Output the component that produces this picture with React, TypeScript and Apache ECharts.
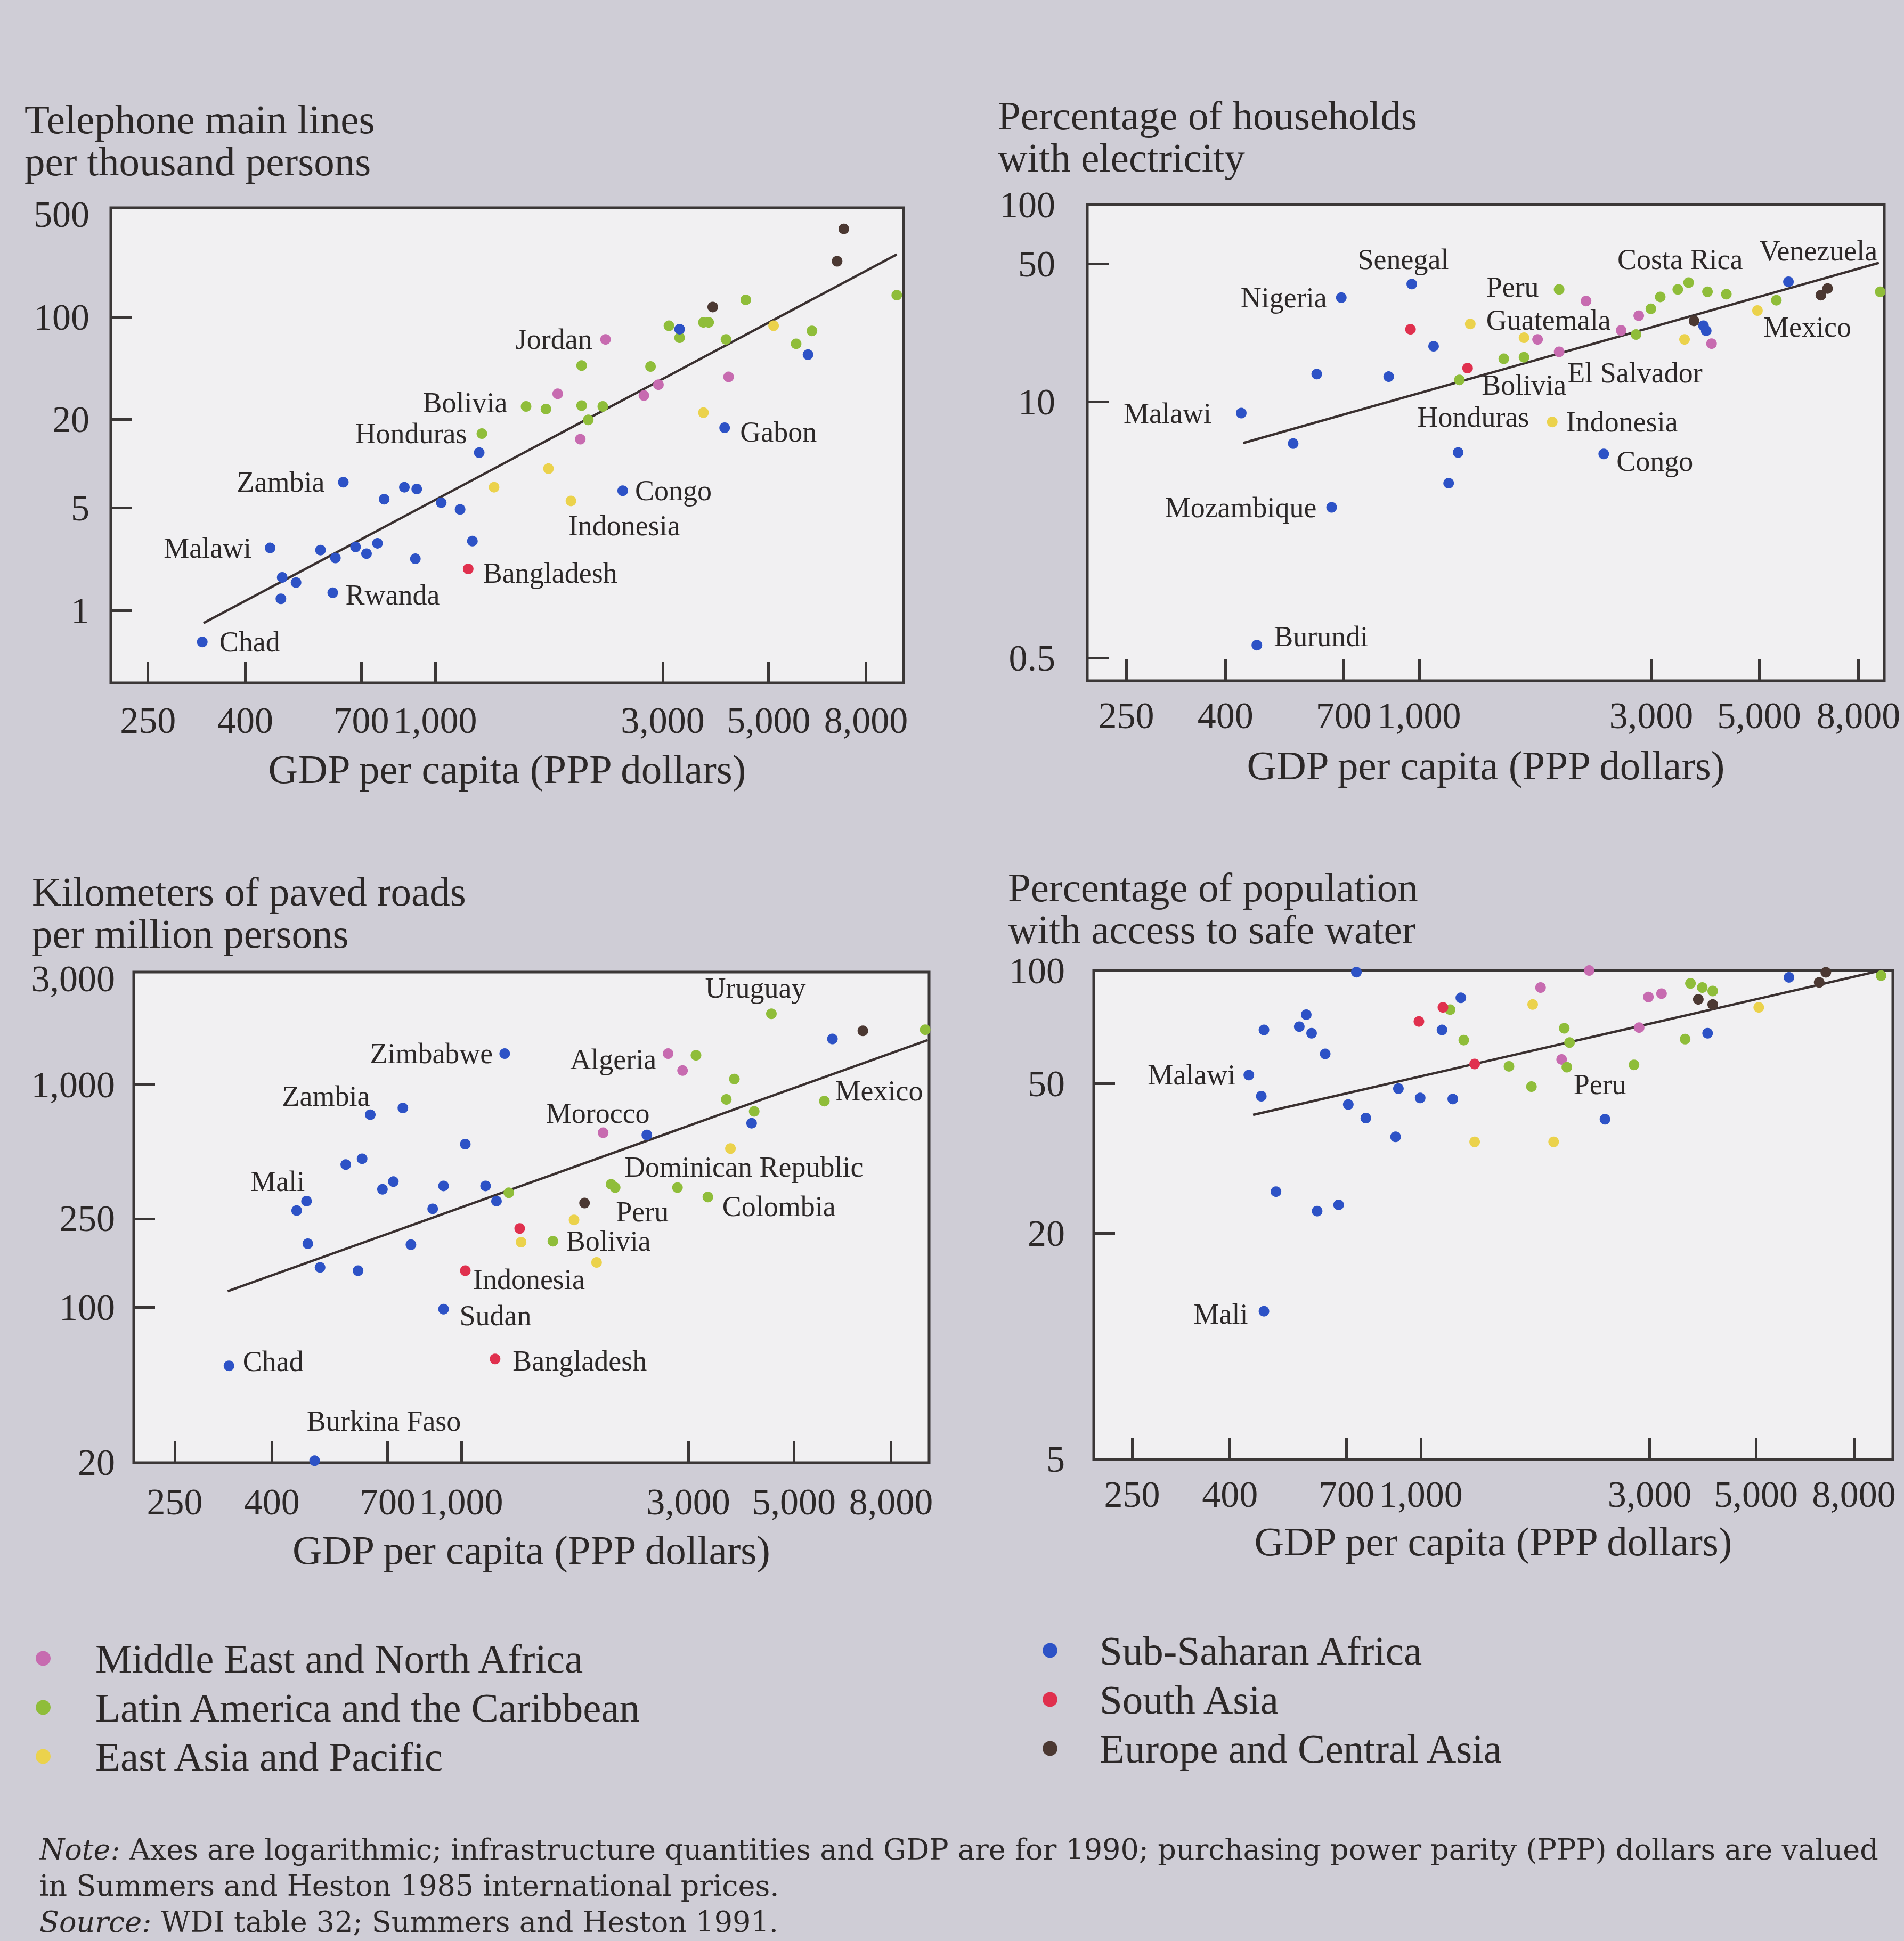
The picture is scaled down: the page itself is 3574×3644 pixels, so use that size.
import React, { useEffect, useRef } from "react";
import * as echarts from "echarts";

const FONT = "'Liberation Serif', 'DejaVu Serif', serif";
const NOTE_FONT = "'DejaVu Serif', 'Liberation Serif', serif";
const INK = "#2c2828";
const AXIS = "#3b3737";
const PAGE_BG = "#cfcdd6";
const PLOT_BG = "#f1f0f2";

const REGION_KEYS = ["mena", "lac", "eap", "ssa", "sa", "eca"];
const REGION_NAMES = [
  "Middle East and North Africa",
  "Latin America and the Caribbean",
  "East Asia and Pacific",
  "Sub-Saharan Africa",
  "South Asia",
  "Europe and Central Asia",
];
const REGION_COLORS = ["#c76bb0", "#8fbd3a", "#ebd24c", "#2d52c6", "#e0304e", "#4b3832"];

const GDP_TICKS = [250, 400, 700, 1000, 3000, 5000, 8000];

type Pt = [number, number, string];
type Named = [string, number, number, string];
type LabelPlace = [string, number, number, number];

// Telephone main lines per thousand persons
const phonePoints: Pt[] = [
  [478, 1.68, "ssa"], [511, 1.55, "ssa"], [475, 1.2, "ssa"], [575, 2.58, "ssa"], [618, 2.28, "ssa"],
  [681, 2.71, "ssa"], [718, 2.44, "ssa"], [757, 2.87, "ssa"], [782, 5.73, "ssa"], [862, 6.92, "ssa"],
  [915, 6.73, "ssa"], [1030, 5.43, "ssa"], [1128, 4.88, "ssa"], [1197, 2.97, "ssa"], [909, 2.25, "ssa"],
  [1237, 11.9, "ssa"], [1329, 6.92, "eap"],
  [2028, 46.7, "lac"], [1807, 30.0, "mena"], [1707, 23.6, "lac"], [2028, 24.9, "lac"], [2246, 24.6, "lac"],
  [2094, 19.9, "lac"], [2015, 14.7, "mena"], [1728, 9.26, "eap"], [2739, 29.2, "mena"], [2938, 34.6, "mena"],
  [2828, 46.0, "lac"], [3091, 87.2, "lac"], [3254, 82.7, "ssa"], [3254, 72.3, "lac"], [3819, 117, "eca"],
  [3651, 92.0, "lac"], [3744, 92.0, "lac"], [4071, 70.4, "lac"], [4479, 131, "lac"], [5122, 87.2, "eap"],
  [5711, 65.7, "lac"], [6165, 80.5, "lac"], [6048, 55.4, "ssa"], [4122, 39.1, "mena"], [3651, 22.3, "eap"],
  [7188, 399, "eca"], [6960, 240, "eca"], [9282, 141, "lac"],
];
const phoneNamed: Named[] = [
  ["Chad", 325, 0.61, "ssa"], ["Malawi", 451, 2.67, "ssa"], ["Zambia", 642, 7.49, "ssa"],
  ["Rwanda", 610, 1.32, "ssa"], ["Honduras", 1253, 16.05, "lac"], ["Bolivia", 1551, 24.6, "lac"],
  ["Jordan", 2276, 70.4, "mena"], ["Bangladesh", 1173, 1.92, "sa"], ["Congo", 2473, 6.55, "ssa"],
  ["Indonesia", 1926, 5.58, "eap"], ["Gabon", 4044, 17.6, "ssa"],
];
const phoneFit = [[327, 0.82], [9280, 267]];
const phoneTicks = [1, 5, 20, 100];
const phoneTickLabels = [1, 5, 20, 100, 500];

// Percentage of households with electricity
const powerPoints: Pt[] = [
  [960, 23.3, "sa"], [1071, 19.1, "ssa"], [616, 13.8, "ssa"], [866, 13.4, "ssa"], [1274, 24.8, "eap"],
  [1258, 14.8, "sa"], [551, 6.13, "ssa"], [1203, 5.52, "ssa"], [1150, 3.86, "ssa"], [2204, 32.4, "mena"],
  [1643, 21.1, "eap"], [1752, 20.7, "mena"], [1940, 17.9, "mena"], [2602, 23.0, "mena"], [2828, 27.3, "mena"],
  [2995, 29.6, "lac"], [3131, 34.0, "lac"], [3402, 37.1, "lac"], [3915, 36.1, "lac"], [4281, 35.1, "lac"],
  [3674, 25.7, "eca"], [3842, 24.3, "ssa"], [3892, 22.9, "ssa"], [3991, 19.7, "mena"], [3512, 20.7, "eap"],
  [4960, 29.0, "eap"], [5743, 40.6, "ssa"], [6696, 34.7, "eca"], [6912, 37.5, "eca"],
];
const powerNamed: Named[] = [
  ["Senegal", 966, 39.5, "ssa"], ["Nigeria", 692, 33.7, "ssa"], ["Honduras", 1210, 12.9, "lac"],
  ["Malawi", 431, 8.75, "ssa"], ["Mozambique", 661, 2.91, "ssa"], ["Burundi", 464, 0.582, "ssa"],
  ["Peru", 1940, 37.1, "lac"], ["Bolivia", 1493, 16.5, "lac"], ["Guatemala", 1643, 16.8, "lac"],
  ["Costa Rica", 3581, 40.2, "lac"], ["El Salvador", 2792, 21.9, "lac"], ["Mexico", 5424, 32.7, "lac"],
  ["Venezuela", 8867, 36.1, "lac"], ["Indonesia", 1878, 7.89, "eap"], ["Congo", 2396, 5.43, "ssa"],
];
const powerFit = [[435, 6.17], [8810, 50.6]];
const powerTicks = [0.5, 10, 50];
const powerTickLabels = [0.5, 10, 50, 100];

// Kilometers of paved roads per million persons
const roadPoints: Pt[] = [
  [754, 787, "ssa"], [1020, 541, "ssa"], [572, 438, "ssa"], [619, 465, "ssa"], [683, 339, "ssa"],
  [720, 367, "ssa"], [918, 351, "ssa"], [1125, 351, "ssa"], [1186, 300, "ssa"], [1259, 327, "lac"],
  [451, 272, "ssa"], [871, 277, "ssa"], [476, 193, "ssa"], [505, 151, "ssa"], [607, 146, "ssa"],
  [784, 191, "ssa"], [1327, 226, "sa"], [1336, 196, "eap"], [1020, 146, "sa"],
  [6026, 1607, "ssa"], [6982, 1748, "eca"], [9440, 1769, "lac"], [2918, 1159, "mena"], [3114, 1358, "lac"],
  [3750, 1062, "lac"], [3606, 860, "lac"], [2455, 595, "ssa"], [4127, 760, "lac"], [4076, 672, "ssa"],
  [3679, 517, "eap"], [2847, 345, "lac"], [1816, 294, "eca"], [1726, 247, "eap"],
];
const roadNamed: Named[] = [
  ["Zimbabwe", 1234, 1381, "ssa"], ["Zambia", 644, 734, "ssa"], ["Mali", 473, 300, "ssa"],
  ["Chad", 325, 54.5, "ssa"], ["Burkina Faso", 492, 20.4, "ssa"], ["Sudan", 918, 98.0, "ssa"],
  ["Indonesia", 1925, 159, "eap"], ["Bangladesh", 1178, 58.5, "sa"], ["Bolivia", 1558, 198, "lac"],
  ["Peru", 2106, 345, "lac"], ["Dominican Republic", 2065, 357, "lac"], ["Colombia", 3298, 313, "lac"],
  ["Morocco", 1987, 609, "mena"], ["Algeria", 2721, 1381, "mena"], ["Uruguay", 4485, 2086, "lac"],
  ["Mexico", 5796, 845, "lac"],
];
const roadFit = [[323, 118], [9557, 1590]];
const roadTicks = [100, 250, 1000];
const roadTickLabels = [20, 100, 250, 1000, 3000];

// Percentage of population with access to safe water
const waterPoints: Pt[] = [
  [734, 99, "ssa"], [471, 69.5, "ssa"], [577, 76.3, "ssa"], [558, 70.9, "ssa"], [592, 68.1, "ssa"],
  [632, 60.0, "ssa"], [465, 46.3, "ssa"], [706, 44.0, "ssa"], [768, 40.5, "ssa"], [898, 48.5, "ssa"],
  [997, 45.8, "ssa"], [1166, 45.5, "ssa"], [886, 36.1, "ssa"], [499, 25.8, "ssa"], [608, 22.9, "ssa"],
  [674, 23.8, "ssa"], [1212, 84.6, "ssa"], [1112, 79.8, "sa"], [1151, 78.7, "lac"], [991, 73.2, "sa"],
  [1107, 69.5, "ssa"], [1229, 65.3, "lac"], [1295, 56.4, "sa"], [1295, 35.0, "eap"], [2244, 100, "mena"],
  [1777, 90.1, "mena"], [1711, 81.2, "eap"], [1991, 70.2, "lac"], [2042, 64.3, "lac"], [1966, 58.0, "mena"],
  [2016, 55.3, "lac"], [1527, 55.6, "lac"], [1701, 49.1, "lac"], [2852, 70.5, "mena"], [2982, 85.0, "mena"],
  [3176, 86.8, "mena"], [3649, 92.4, "lac"], [3862, 90.1, "lac"], [4061, 88.2, "lac"], [3789, 83.8, "eca"],
  [4061, 81.2, "eca"], [5065, 79.8, "eap"], [3557, 65.7, "lac"], [3962, 68.1, "ssa"], [5856, 95.9, "ssa"],
  [6770, 93.0, "eca"], [6990, 98.9, "eca"], [9113, 96.9, "lac"], [2421, 40.2, "ssa"], [1892, 35.0, "eap"],
];
const waterNamed: Named[] = [
  ["Malawi", 438, 52.7, "ssa"], ["Mali", 471, 12.4, "ssa"], ["Peru", 2783, 56.1, "lac"],
];
const waterFit = [[447, 41.3], [9113, 100]];
const waterTicks = [20, 50];
const waterTickLabels = [5, 20, 50, 100];

// Country label placement: [position, distance, dx, dy]
const phoneLabels: Record<string, LabelPlace> = {
  Chad: ["right", 22, 0, 0], Malawi: ["left", 25, 0, 0], Zambia: ["left", 25, 0, 0],
  Rwanda: ["right", 14, 0, 4], Honduras: ["left", 18, 0, 0], Bolivia: ["left", 25, 0, -7],
  Jordan: ["left", 15, 0, 0], Bangladesh: ["right", 18, 0, 8], Congo: ["right", 13, 0, 0],
  Indonesia: ["bottom", 10, 100, 0], Gabon: ["right", 19, 0, 8],
};
const powerLabels: Record<string, LabelPlace> = {
  Senegal: ["top", 9, -16, 0], Nigeria: ["left", 17, 0, 0], Malawi: ["left", 46, 0, 0],
  Mozambique: ["left", 18, 0, 0], Burundi: ["right", 22, 0, -16], Peru: ["left", 28, 0, -4],
  Guatemala: ["top", 33, 46, 0], Bolivia: ["bottom", 12, 38, 0], Honduras: ["bottom", 33, 26, 0],
  "El Salvador": ["bottom", 35, -2, 0], Indonesia: ["right", 16, 0, 0], Congo: ["right", 14, 0, 14],
  "Costa Rica": ["top", 6, -16, 0], Venezuela: ["top", 40, -116, 0], Mexico: ["bottom", 13, 58, 0],
};
const roadLabels: Record<string, LabelPlace> = {
  Zimbabwe: ["left", 12, 0, 0], Zambia: ["top", -2, -83, 0], Mali: ["top", 0, -54, 0],
  Chad: ["right", 16, 0, -8], "Burkina Faso": ["top", 37, 130, 0], Sudan: ["right", 20, 0, 12],
  Indonesia: ["left", 12, 0, 32], Bangladesh: ["right", 23, 0, 4], Bolivia: ["right", 15, 0, 0],
  Peru: ["bottom", 8, 51, 0], "Dominican Republic": ["right", 15, 0, -32], Colombia: ["right", 17, 0, 18],
  Morocco: ["top", 0, -10, 0], Algeria: ["left", 12, 0, 11], Uruguay: ["top", 11, -30, 0],
  Mexico: ["right", 10, 0, -19],
};
const waterLabels: Record<string, LabelPlace> = {
  Malawi: ["left", 15, 0, 0], Mali: ["left", 20, 0, 5], Peru: ["bottom", 0, -64, 0],
};

const NOTE_LINES = [
  "{i|Note:} Axes are logarithmic; infrastructure quantities and GDP are for 1990; purchasing power parity (PPP) dollars are valued",
  "in Summers and Heston 1985 international prices.",
  "{i|Source:} WDI table 32; Summers and Heston 1991.",
];

const PANELS = [
  {
    title: "Telephone main lines\nper thousand persons", titleLeft: 46, titleTop: 184,
    grid: { left: 208, top: 390, width: 1488, height: 892 },
    x: [209, 9590], y: [0.321, 556], yTicks: phoneTicks, yLabels: phoneTickLabels,
    points: phonePoints, named: phoneNamed, fit: phoneFit, labels: phoneLabels,
    xMargin: 35, yMargin: 40, nameGap: 123,
  },
  {
    title: "Percentage of households\nwith electricity", titleLeft: 1873, titleTop: 177,
    grid: { left: 2041, top: 384, width: 1496, height: 894 },
    x: [208, 9040], y: [0.384, 100.02], yTicks: powerTicks, yLabels: powerTickLabels,
    points: powerPoints, named: powerNamed, fit: powerFit, labels: powerLabels,
    xMargin: 30, yMargin: 60, nameGap: 120,
  },
  {
    title: "Kilometers of paved roads\nper million persons", titleLeft: 60, titleTop: 1634,
    grid: { left: 251, top: 1825, width: 1493, height: 921 },
    x: [205, 9620], y: [19.99, 3213], yTicks: roadTicks, yLabels: roadTickLabels,
    points: roadPoints, named: roadNamed, fit: roadFit, labels: roadLabels,
    xMargin: 38, yMargin: 35, nameGap: 125,
  },
  {
    title: "Percentage of population\nwith access to safe water", titleLeft: 1892, titleTop: 1626,
    grid: { left: 2053, top: 1822, width: 1500, height: 918 },
    x: [208, 9640], y: [4.999, 100.02], yTicks: waterTicks, yLabels: waterTickLabels,
    points: waterPoints, named: waterNamed, fit: waterFit, labels: waterLabels,
    xMargin: 30, yMargin: 54, nameGap: 115,
  },
];

function fmt(v: number): string {
  if (v < 1) return String(Math.round(v * 100) / 100);
  return Math.round(v).toLocaleString("en-US");
}

function buildOption() {
  const series: any[] = [];
  PANELS.forEach((p, i) => {
    series.push({
      type: "line",
      xAxisIndex: i,
      yAxisIndex: i,
      data: p.fit,
      symbol: "none",
      silent: true,
      lineStyle: { color: "#3a3030", width: 4.5 },
      z: 1,
    });
    REGION_KEYS.forEach((key, r) => {
      const plain = p.points.filter((d) => d[2] === key).map((d) => [d[0], d[1]]);
      const named = p.named
        .filter((d) => d[3] === key)
        .map((d) => {
          const [pos, dist, dx, dy] = p.labels[d[0]];
          return {
            name: d[0],
            value: [d[1], d[2]],
            label: { show: true, position: pos, distance: dist, offset: [dx, dy] },
          };
        });
      series.push({
        type: "scatter",
        name: REGION_NAMES[r],
        xAxisIndex: i,
        yAxisIndex: i,
        data: [...plain, ...named],
        symbolSize: 20,
        itemStyle: { color: REGION_COLORS[r], opacity: 1 },
        label: { show: false, formatter: "{b}", fontSize: 54, fontFamily: FONT, color: INK },
        emphasis: { disabled: true },
        z: 3,
      });
    });
  });

  const legendBase = {
    orient: "vertical",
    icon: "circle",
    itemWidth: 28,
    itemHeight: 28,
    itemGap: 15,
    padding: 0,
    selectedMode: false,
    textStyle: { fontSize: 77, lineHeight: 77, fontFamily: FONT, color: INK },
  };

  return {
    animation: false,
    backgroundColor: PAGE_BG,
    title: PANELS.map((p) => ({
      text: p.title,
      left: p.titleLeft,
      top: p.titleTop,
      padding: 0,
      textStyle: { fontSize: 77, lineHeight: 79, fontWeight: "normal", fontFamily: FONT, color: INK },
    })),
    grid: PANELS.map((p) => ({
      ...p.grid,
      show: true,
      backgroundColor: PLOT_BG,
      borderColor: AXIS,
      borderWidth: 5,
      containLabel: false,
      outerBoundsMode: "none",
    })),
    xAxis: PANELS.map((p, i) => ({
      type: "log",
      logBase: 10,
      gridIndex: i,
      min: p.x[0],
      max: p.x[1],
      axisLine: { show: false },
      axisTick: { show: true, inside: true, length: 40, lineStyle: { color: AXIS, width: 5 }, customValues: GDP_TICKS },
      axisLabel: { customValues: GDP_TICKS, formatter: fmt, fontSize: 70, fontFamily: FONT, color: INK, margin: p.xMargin },
      splitLine: { show: false },
      minorTick: { show: false },
      minorSplitLine: { show: false },
      name: "GDP per capita (PPP dollars)",
      nameLocation: "middle",
      nameGap: p.nameGap,
      nameTextStyle: { fontSize: 77, fontFamily: FONT, color: INK },
    })),
    yAxis: PANELS.map((p, i) => ({
      type: "log",
      logBase: 10,
      gridIndex: i,
      min: p.y[0],
      max: p.y[1],
      axisLine: { show: false },
      axisTick: { show: true, inside: true, length: 40, lineStyle: { color: AXIS, width: 5 }, customValues: p.yTicks },
      axisLabel: { customValues: p.yLabels, formatter: fmt, fontSize: 70, fontFamily: FONT, color: INK, margin: p.yMargin },
      splitLine: { show: false },
      minorTick: { show: false },
      minorSplitLine: { show: false },
    })),
    legend: [
      { ...legendBase, left: 67, top: 3075, data: REGION_NAMES.slice(0, 3), textStyle: { ...legendBase.textStyle, padding: [0, 0, 0, 79] } },
      { ...legendBase, left: 1957, top: 3060, data: REGION_NAMES.slice(3), textStyle: { ...legendBase.textStyle, padding: [0, 0, 0, 74] } },
    ],
    graphic: [
      {
        type: "text",
        left: 74,
        top: 3438,
        style: {
          text: NOTE_LINES.join("\n"),
          fontSize: 54,
          fontFamily: NOTE_FONT,
          fill: INK,
          lineHeight: 68,
          rich: {
            i: { fontStyle: "italic", fontSize: 54, fontFamily: NOTE_FONT, fill: INK, lineHeight: 68 },
          },
        },
      },
    ],
    series,
  };
}

export default function App() {
  const ref = useRef<HTMLDivElement>(null);
  useEffect(() => {
    if (!ref.current) return;
    const chart = echarts.init(ref.current, undefined, { renderer: "svg" });
    chart.setOption(buildOption() as any);
    return () => chart.dispose();
  }, []);
  return (
    <div
      ref={ref}
      style={{ position: "absolute", left: 0, top: 0, width: 3574, height: 3644 }}
    />
  );
}
